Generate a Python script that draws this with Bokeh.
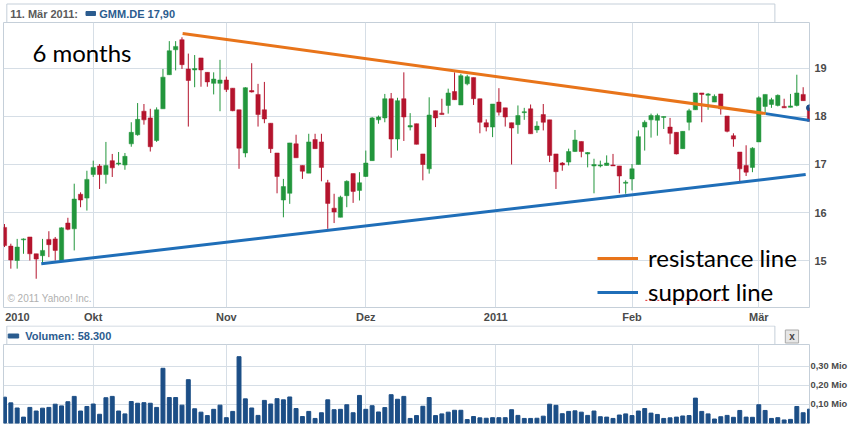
from bokeh.plotting import figure
from bokeh.layouts import column
from bokeh.models import Range1d, FixedTicker, Legend, LegendItem, ColumnDataSource
from bokeh.core.properties import value
from bokeh.embed import file_html
from bokeh.resources import INLINE

# ---------------- data (GMM.DE daily, 13 Sep 2010 .. 11 Mar 2011; x = trading-day index) ----------------
opens = [15.69, 15.30, 15.00, 15.43, 15.49, 15.14, 15.10, 15.44, 15.45, 15.00,
         15.78, 15.66, 16.38, 16.30, 16.79, 16.97, 16.79, 17.08, 17.01, 16.99,
         17.43, 17.62, 18.11, 17.97, 17.50, 18.16, 18.87, 19.39, 19.60, 18.99,
         18.97, 19.22, 18.92, 18.69, 18.69, 18.76, 18.59, 18.14, 17.24, 18.54,
         18.46, 18.14, 17.86, 17.24, 16.26, 16.40, 17.43, 16.98, 16.82, 17.52,
         17.47, 16.62, 16.09, 15.90, 16.35, 16.81, 16.46, 16.75, 17.08, 17.93,
         17.97, 18.37, 17.53, 18.37, 17.78, 17.85, 17.22, 16.91, 18.12, 18.07,
         18.23, 18.52, 18.24, 18.68, 18.81, 18.37, 17.87, 17.78, 18.30, 18.18,
         17.87, 17.83, 18.08, 18.16, 17.72, 18.04, 17.93, 17.22, 17.03, 17.05,
         17.27, 17.48, 17.22, 16.97, 16.97, 16.98, 16.99, 16.97, 16.61, 16.70,
         17.00, 17.78, 17.93, 17.92, 17.98, 17.78, 17.67, 17.33, 17.88, 18.14,
         18.49, 18.44, 18.30, 18.47, 18.01, 17.60, 17.26, 16.98, 16.94, 17.47,
         18.21, 18.25, 18.23, 18.21, 18.19, 18.23, 18.46, 18.18]
highs = [15.76, 15.35, 15.45, 15.46, 15.49, 15.14, 15.45, 15.61, 15.49, 15.69,
         15.89, 16.60, 16.42, 16.87, 17.08, 17.01, 17.47, 17.22, 17.26, 17.24,
         17.88, 18.28, 18.26, 18.16, 18.19, 18.99, 19.57, 19.57, 19.65, 19.31,
         19.28, 19.22, 18.92, 18.92, 19.18, 18.83, 18.59, 18.14, 18.61, 19.11,
         18.68, 18.72, 17.86, 17.24, 16.70, 17.45, 17.62, 16.98, 17.64, 17.64,
         17.64, 16.68, 16.39, 16.35, 16.67, 16.81, 16.84, 17.29, 17.99, 18.02,
         18.47, 18.49, 18.39, 18.92, 18.07, 17.85, 17.22, 18.40, 18.12, 18.37,
         18.58, 18.92, 18.89, 18.87, 18.81, 18.37, 17.94, 18.26, 18.59, 18.18,
         17.87, 18.23, 18.18, 18.25, 17.90, 18.26, 17.93, 17.22, 17.05, 17.33,
         17.72, 17.48, 17.26, 17.12, 17.08, 17.19, 17.22, 16.97, 16.67, 17.01,
         17.71, 17.92, 18.06, 18.06, 18.00, 17.97, 17.67, 17.69, 18.16, 18.49,
         18.49, 18.49, 18.46, 18.47, 18.01, 17.65, 17.26, 17.40, 17.36, 18.42,
         18.46, 18.39, 18.46, 18.37, 18.47, 18.87, 18.61, 18.18]
lows = [15.28, 14.83, 14.83, 15.14, 15.00, 14.62, 14.93, 15.07, 15.00, 15.00,
        15.63, 15.21, 16.11, 16.04, 16.74, 16.49, 16.60, 16.74, 16.98, 16.89,
        17.37, 17.60, 17.83, 17.27, 17.47, 18.16, 18.87, 18.96, 18.99, 17.79,
        18.61, 18.62, 18.62, 18.46, 18.11, 18.51, 18.11, 16.91, 17.15, 18.50,
        17.79, 17.86, 17.24, 16.40, 15.90, 16.18, 17.14, 16.70, 16.82, 17.33,
        16.65, 15.66, 15.78, 15.90, 16.11, 16.20, 16.25, 16.74, 17.08, 17.85,
        17.88, 17.14, 17.29, 17.49, 17.71, 17.42, 16.67, 16.81, 17.78, 18.04,
        18.06, 18.35, 18.24, 18.65, 18.24, 17.65, 17.69, 17.57, 18.02, 17.79,
        17.00, 17.64, 17.93, 17.64, 17.66, 17.71, 17.05, 16.49, 16.87, 16.98,
        17.26, 17.15, 16.94, 16.40, 16.94, 16.98, 16.97, 16.40, 16.39, 16.46,
        17.00, 17.29, 17.56, 17.60, 17.74, 17.42, 17.21, 17.33, 17.71, 18.14,
        17.88, 18.14, 18.30, 18.04, 17.67, 17.37, 16.65, 16.76, 16.84, 17.47,
        18.06, 18.18, 18.21, 18.18, 18.19, 18.21, 18.33, 17.90]
closes = [15.31, 15.01, 15.28, 15.45, 15.14, 15.03, 15.21, 15.33, 15.21, 15.68,
          15.65, 16.28, 16.26, 16.69, 16.94, 16.79, 16.98, 16.93, 17.03, 17.17,
          17.67, 17.94, 17.93, 17.37, 18.14, 18.82, 19.37, 19.46, 19.08, 18.75,
          19.00, 18.97, 18.72, 18.78, 18.76, 18.56, 18.12, 17.34, 18.60, 18.51,
          18.04, 17.95, 17.33, 16.75, 16.54, 17.45, 17.14, 16.86, 17.47, 17.33,
          16.94, 16.19, 16.01, 16.32, 16.65, 16.44, 16.62, 17.03, 17.97, 17.99,
          18.37, 17.53, 18.33, 17.99, 17.81, 17.42, 17.00, 18.03, 17.97, 18.04,
          18.49, 18.35, 18.85, 18.83, 18.37, 17.88, 17.78, 18.26, 18.09, 17.99,
          17.76, 18.02, 18.10, 17.64, 17.80, 17.88, 17.19, 16.85, 16.99, 17.27,
          17.51, 17.27, 17.25, 17.00, 16.99, 17.03, 16.97, 16.76, 16.63, 16.91,
          17.58, 17.88, 18.02, 18.02, 18.00, 17.65, 17.22, 17.69, 18.12, 18.49,
          18.46, 18.47, 18.42, 18.16, 17.69, 17.53, 16.91, 16.84, 17.34, 18.39,
          18.46, 18.35, 18.44, 18.18, 18.22, 18.49, 18.33, 17.90]
volumes = [0.136, 0.106, 0.079, 0.031, 0.082, 0.063, 0.078, 0.082, 0.099, 0.090,
           0.112, 0.140, 0.063, 0.087, 0.100, 0.046, 0.133, 0.140, 0.063, 0.048,
           0.113, 0.104, 0.107, 0.104, 0.082, 0.288, 0.134, 0.134, 0.094, 0.228,
           0.075, 0.057, 0.039, 0.072, 0.094, 0.028, 0.061, 0.349, 0.127, 0.079,
           0.040, 0.119, 0.100, 0.128, 0.122, 0.137, 0.076, 0.034, 0.061, 0.024,
           0.054, 0.122, 0.070, 0.072, 0.096, 0.054, 0.145, 0.072, 0.091, 0.058,
           0.081, 0.149, 0.125, 0.140, 0.024, 0.039, 0.088, 0.134, 0.039, 0.048,
           0.057, 0.067, 0.067, 0.018, 0.034, 0.027, 0.025, 0.028, 0.028, 0.028,
           0.070, 0.040, 0.024, 0.024, 0.025, 0.036, 0.099, 0.093, 0.049, 0.061,
           0.064, 0.057, 0.040, 0.063, 0.033, 0.031, 0.024, 0.042, 0.048, 0.039,
           0.063, 0.076, 0.052, 0.045, 0.024, 0.027, 0.031, 0.037, 0.039, 0.131,
           0.061, 0.048, 0.021, 0.033, 0.040, 0.030, 0.066, 0.031, 0.030, 0.096,
           0.066, 0.024, 0.028, 0.016, 0.019, 0.087, 0.054, 0.073]
idx = list(range(len(opens)))

month_pos = [14, 35, 57, 77.5, 99, 119]          # first trading day of each month
month_labels = ["Okt", "Nov", "Dez", "2011", "Feb", "Mär"]
year_label_pos = 2.04
year_label = "2010"
price_ticks = [15, 16, 17, 18, 19]
vol_ticks = [0.1, 0.2, 0.3]
vol_tick_labels = ["0,10 Mio", "0,20 Mio", "0,30 Mio"]

res_x, res_y = [28.1, 120.1], [19.73, 18.06]
sup_x, sup_y = [5.8, 126.4], [14.93, 16.79]
sup2_x, sup2_y = [120.1, 127.5], [18.06, 17.91]

# ---------------- styles ----------------
GREEN = "#22963C"
RED = "#B4142D"
NAVY = "#1C4E86"
TXTBLUE = "#2B5C8F"
GRID = "#D6DEE6"
EDGE = "#C5CFD9"
ORANGE = "#E8741A"
BLUE = "#1F6EB8"
AXIS_TXT = "#4A4A4A"
W = 850

xr = Range1d(-0.157, 127.0)

# ---------------- header ----------------
hdr = figure(width=W, height=22, x_range=Range1d(0, W), y_range=Range1d(22, 0),
             x_axis_location=None, y_axis_location=None, min_border=0,
             toolbar_location=None, output_backend="svg")
hdr.outline_line_color = None
hdr.grid.visible = False
hdr.segment(x0=[3.5, 3.5, 813.5], y0=[3.5, 3.5, 3.5], x1=[813.5, 3.5, 813.5], y1=[3.5, 22, 22],
            line_color=EDGE)
hdr.text(x=[7], y=[13], text=["11. Mär 2011:"], text_font=value("Liberation Sans"),
         text_font_style="bold", text_font_size="11px", text_color="#5A5A5A",
         text_baseline="middle")
hdr.quad(left=[87], right=[97], top=[11], bottom=[15], fill_color=TXTBLUE, line_color=TXTBLUE)
hdr.text(x=[101], y=[13], text=["GMM.DE 17,90"], text_font=value("Liberation Sans"),
         text_font_style="bold", text_font_size="11px", text_color=TXTBLUE,
         text_baseline="middle")

# ---------------- price panel ----------------
p = figure(width=W, height=303, x_range=xr, y_range=Range1d(14.021, 19.958),
           x_axis_location="below", y_axis_location="right",
           min_border_left=3, min_border_right=37, min_border_top=0, min_border_bottom=18,
           toolbar_location=None, output_backend="svg")
p.outline_line_color = EDGE
p.grid.grid_line_color = GRID
p.xgrid.ticker = FixedTicker(ticks=month_pos)
p.ygrid.ticker = FixedTicker(ticks=price_ticks)
for ax in p.axis:
    ax.axis_line_color = None
    ax.major_tick_line_color = None
    ax.minor_tick_line_color = None
    ax.major_tick_in = 0
    ax.major_tick_out = 0
    ax.major_label_text_font = "Liberation Sans"
    ax.major_label_text_font_style = "bold"
    ax.major_label_text_font_size = "11px"
    ax.major_label_text_color = AXIS_TXT
p.yaxis.ticker = FixedTicker(ticks=price_ticks)
p.yaxis.major_label_standoff = 5
p.xaxis.ticker = FixedTicker(ticks=[year_label_pos] + month_pos)
overrides = {year_label_pos: year_label}
overrides.update({m: l for m, l in zip(month_pos, month_labels)})
p.xaxis.major_label_overrides = overrides
p.xaxis.major_label_standoff = 3

colors = [GREEN if c >= o else RED for o, c in zip(opens, closes)]
src = ColumnDataSource(dict(
    x=idx, high=highs, low=lows,
    top=[max(o, c) for o, c in zip(opens, closes)],
    bottom=[min(o, c) for o, c in zip(opens, closes)],
    color=colors))
p.segment(x0="x", y0="high", x1="x", y1="low", source=src, line_color="color", line_width=1)
p.vbar(x="x", top="top", bottom="bottom", width=0.68, source=src,
       fill_color="color", line_color="color", line_width=0.5)

r_res = p.line(res_x, res_y, line_color=ORANGE, line_width=3)
r_sup = p.line(sup_x, sup_y, line_color=BLUE, line_width=3)
p.line(sup2_x, sup2_y, line_color=BLUE, line_width=3)
p.scatter(x=[idx[-1]], y=[opens[-1]], size=6, color="#1F4E8C")

p.text(x=[4.4], y=[19.34], text=["6 months"], text_font=value("Lato"),
       text_font_size="24px", text_color="black", text_baseline="alphabetic")
p.text(x=[0.47], y=[14.21], text=["© 2011 Yahoo! Inc."], text_font=value("Liberation Sans"),
       text_font_size="10px", text_color="#B0B0B0", text_baseline="middle")
# spell-checker squiggle under "support"
p.line([101.1, 113.9], [14.17, 14.17], line_color="#E02828", line_width=1, line_dash="2 2")

legend = Legend(items=[LegendItem(label="resistance line", renderers=[r_res]),
                       LegendItem(label="support line", renderers=[r_sup])],
                location=(594, 1), orientation="vertical",
                glyph_width=41, glyph_height=28, label_height=28, spacing=5,
                label_standoff=10, padding=0, margin=0,
                background_fill_alpha=0, border_line_color=None,
                label_text_font="Lato", label_text_font_size="24px",
                label_text_color="black")
p.add_layout(legend)

# ---------------- volume header ----------------
vh = figure(width=W, height=19, x_range=Range1d(0, W), y_range=Range1d(19, 0),
            x_axis_location=None, y_axis_location=None, min_border=0,
            toolbar_location=None, output_backend="svg")
vh.outline_line_color = None
vh.grid.visible = False
vh.quad(left=[3.5], right=[813.5], top=[0.5], bottom=[20], fill_color="white", line_color=EDGE)
vh.quad(left=[5], right=[16], top=[8.5], bottom=[12.5], fill_color=TXTBLUE, line_color=TXTBLUE)
vh.text(x=[23], y=[10.5], text=["Volumen: 58.300"], text_font=value("Liberation Sans"),
        text_font_style="bold", text_font_size="11px", text_color=TXTBLUE,
        text_baseline="middle")
vh.quad(left=[824.5], right=[838.5], top=[4.5], bottom=[17.5], fill_color="#E6E6E6",
        line_color="#A8A8A8")
vh.text(x=[831.5], y=[11], text=["x"], text_font=value("Liberation Sans"),
        text_font_style="bold", text_font_size="10px", text_color="#444444",
        text_baseline="middle", text_align="center")

# ---------------- volume panel ----------------
v = figure(width=W, height=80, x_range=xr, y_range=Range1d(-0.0079, 0.4132),
           x_axis_location=None, y_axis_location="right",
           min_border_left=3, min_border_right=37, min_border_top=0, min_border_bottom=0,
           toolbar_location=None, output_backend="svg")
v.outline_line_color = EDGE
v.grid.grid_line_color = GRID
v.xgrid.ticker = FixedTicker(ticks=month_pos)
v.ygrid.ticker = FixedTicker(ticks=vol_ticks)
ya = v.yaxis[0]
ya.ticker = FixedTicker(ticks=vol_ticks)
ya.major_label_overrides = {t: l for t, l in zip(vol_ticks, vol_tick_labels)}
ya.axis_line_color = None
ya.major_tick_line_color = None
ya.minor_tick_line_color = None
ya.major_tick_in = 0
ya.major_tick_out = 0
ya.major_label_standoff = 1
ya.major_label_text_font = "Liberation Sans"
ya.major_label_text_font_style = "bold"
ya.major_label_text_font_size = "9.3px"
ya.major_label_text_color = AXIS_TXT
v.vbar(x=idx, top=volumes, bottom=0, width=0.62, fill_color=NAVY, line_color=NAVY)

layout = column(hdr, p, vh, v, spacing=0)
open("out.html", "w").write(file_html(layout, INLINE, "GMM.DE"))
